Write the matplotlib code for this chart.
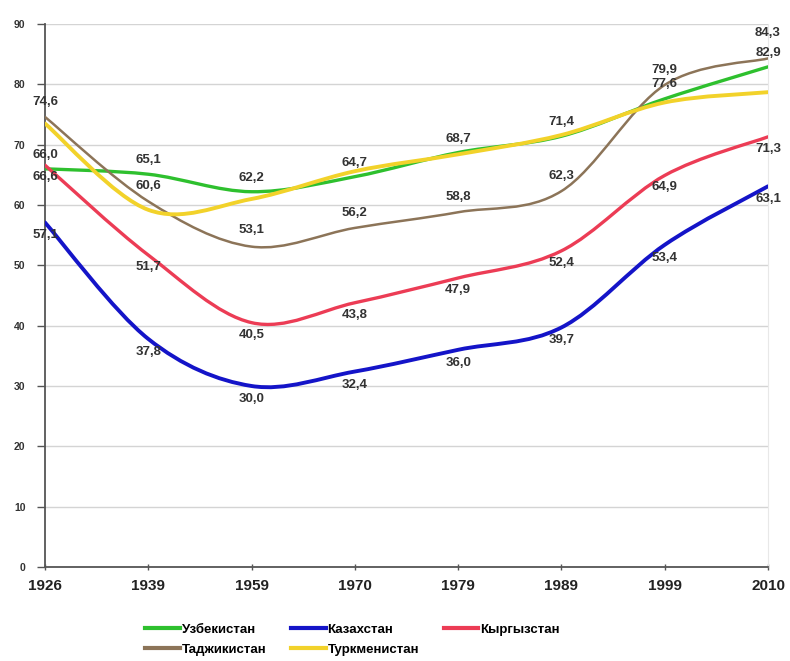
import numpy as np
import matplotlib
matplotlib.use("Agg")
import matplotlib.pyplot as plt
from matplotlib.path import Path
from matplotlib.patches import PathPatch
from matplotlib.lines import Line2D

plt.rcParams["font.family"] = ["Liberation Sans", "DejaVu Sans"]

years = ["1926", "1939", "1959", "1970", "1979", "1989", "1999", "2010"]

uzbekistan = [66.0, 65.1, 62.2, 64.7, 68.7, 71.4, 77.6, 82.9]
kazakhstan = [57.1, 37.8, 30.0, 32.4, 36.0, 39.7, 53.4, 63.1]
kyrgyzstan = [66.6, 51.7, 40.5, 43.8, 47.9, 52.4, 64.9, 71.3]
tajikistan = [74.6, 60.6, 53.1, 56.2, 58.8, 62.3, 79.9, 84.3]
turkmenistan = [73.5, 59.2, 61.0, 65.6, 68.4, 71.6, 77.0, 78.7]

names = ["Узбекистан", "Казахстан", "Кыргызстан", "Таджикистан", "Туркменистан"]
colors = ["#2ec02e", "#1414c8", "#ec3c55", "#8c7458", "#f2d22a"]
widths = [2.4, 2.8, 2.4, 1.8, 2.8]

# label offset in pixels above(+)/below(-) the point; None = no labels
label_dy = [14, -13, -12, 15, None]
# a few labels sit further away in the original
label_dy_fix = {(3, 7): 25, (3, 2): 17, (0, 6): 15}


def smooth_path(xs, ys):
    # Excel-like smoothed line: Catmull-Rom converted to cubic Bezier segments
    pts = np.column_stack([xs, ys])
    n = len(pts)
    verts = [pts[0]]
    codes = [Path.MOVETO]
    for i in range(n - 1):
        p0 = pts[i - 1] if i > 0 else pts[i]
        p1 = pts[i]
        p2 = pts[i + 1]
        p3 = pts[i + 2] if i + 2 < n else pts[i + 1]
        c1 = p1 + (p2 - p0) / 6.0
        c2 = p2 - (p3 - p1) / 6.0
        verts += [c1, c2, p2]
        codes += [Path.CURVE4] * 3
    return Path(verts, codes)


fig = plt.figure(figsize=(7.9, 6.61), dpi=100)
ax = fig.add_axes([45 / 790, 94 / 661, 723 / 790, 543 / 661])

x = np.arange(len(years))
series = [uzbekistan, kazakhstan, kyrgyzstan, tajikistan, turkmenistan]

for vals, col, lw in zip(series, colors, widths):
    patch = PathPatch(smooth_path(x, vals), facecolor="none", edgecolor=col,
                      lw=lw, capstyle="round", joinstyle="round", zorder=3)
    ax.add_patch(patch)

for si, (vals, dy) in enumerate(zip(series, label_dy)):
    if dy is None:
        continue
    for xi, v in zip(x, vals):
        d = label_dy_fix.get((si, xi), dy)
        ax.annotate(f"{v:.1f}".replace(".", ","), (xi, v), xytext=(0, d),
                    textcoords="offset pixels", ha="center", va="center",
                    fontsize=9.5, fontweight="bold", color="#333333", zorder=4)

ax.set_xlim(0, len(years) - 1)
ax.set_ylim(0, 90)
ax.set_xticks(x)
ax.set_xticklabels(years, fontsize=11, fontweight="bold", color="#222222")
ax.set_yticks(np.arange(0, 91, 10))
ax.set_yticklabels([str(v) for v in range(0, 91, 10)], fontsize=7.5,
                   fontweight="bold", color="#333333")
ax.tick_params(axis="x", direction="inout", length=5, width=1, color="#555555", pad=6)
ax.tick_params(axis="y", direction="out", length=6, width=1, color="#555555", pad=8)
ax.grid(axis="y", color="#d4d4d4", lw=1)
ax.set_axisbelow(True)
ax.spines["top"].set_visible(False)
ax.spines["right"].set_color("#e8e8e8")
ax.spines["left"].set_color("#555555")
ax.spines["bottom"].set_color("#555555")
ax.spines["left"].set_linewidth(1.3)
ax.spines["bottom"].set_linewidth(1.3)

handles = [Line2D([], [], color=c, lw=3) for c in colors]
order = [0, 3, 1, 4, 2]
fig.legend([handles[i] for i in order], [names[i] for i in order],
           loc="lower left", bbox_to_anchor=(140 / 790, 0.0), ncol=3,
           frameon=False, handlelength=2.6, handletextpad=0.15,
           columnspacing=1.9, labelspacing=0.6, borderaxespad=0.0,
           prop={"weight": "bold", "size": 9.5})

fig.savefig("out.png", dpi=100)
